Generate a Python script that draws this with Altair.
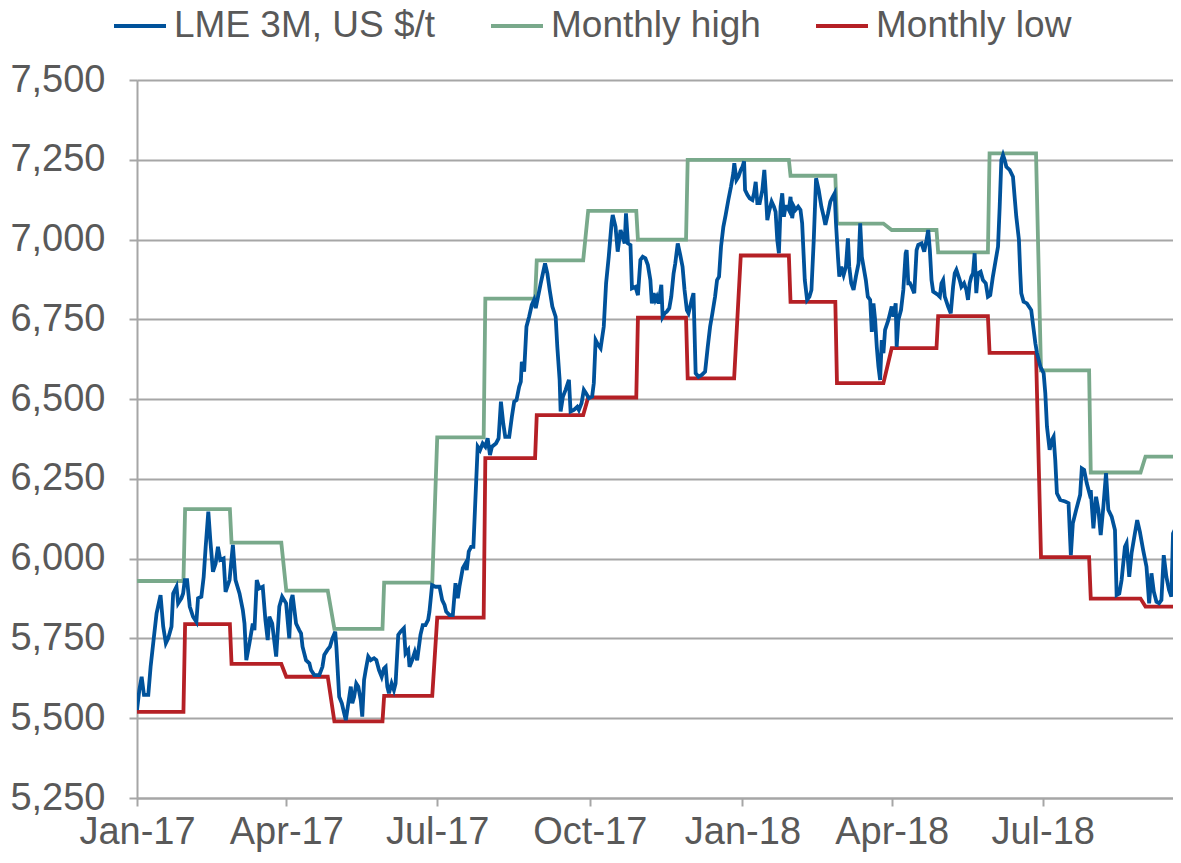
import altair as alt
import pandas as pd

FONT = "Liberation Sans, Arial, sans-serif"
TEXT_COLOR = "#595959"
GRID_COLOR = "#a6a6a6"

series_names = ["LME 3M, US $/t", "Monthly high", "Monthly low"]
series_colors = ["#00529b", "#79a98b", "#b52025"]

months = ["2017-01", "2017-02", "2017-03", "2017-04", "2017-05", "2017-06", "2017-07",
          "2017-08", "2017-09", "2017-10", "2017-11", "2017-12", "2018-01", "2018-02",
          "2018-03", "2018-04", "2018-05", "2018-06", "2018-07", "2018-08", "2018-09"]
monthly_high = [5930, 6155, 6050, 5900, 5780, 5925, 6380, 6815, 6935, 7090, 7000, 7250,
                7250, 7200, 7050, 7030, 6960, 7270, 6590, 6270, 6320]
monthly_low = [5520, 5795, 5670, 5630, 5490, 5570, 5815, 6315, 6450, 6505, 6755, 6565,
               6950, 6805, 6550, 6660, 6760, 6645, 6005, 5875, 5850]

# LME exchange holidays (no trading)
holidays = ["2017-04-14", "2017-04-17", "2017-05-01", "2017-05-29", "2017-08-28",
            "2017-12-25", "2017-12-26", "2018-01-01", "2018-03-30", "2018-04-02",
            "2018-05-07", "2018-05-28", "2018-08-27"]

# LME 3M price: days after 2017-01-03 and price
lme_days = [
    0, 1.4, 2.8, 4.2, 6.8, 8.2, 10.2, 11.8, 14.2, 15.8, 17.4, 18.8, 20.8, 21.8, 23.8, 24.8,
    26.8, 27.8, 28.8, 30.2, 31.8, 33.8, 35.8, 36.8, 38.8, 40.2, 41.4, 43.0, 44.2, 45.8, 47.4,
    48.8, 50.2, 52.2, 53.4, 55.8, 57.8, 59.4, 61.8, 63.8, 64.8, 65.9, 67.8, 69.8, 70.8, 72.2,
    73.8, 75.8, 77.4, 78.8, 79.8, 81.5, 83.9, 85.8, 87.5, 89.9, 91.8, 92.9, 93.8, 95.9, 97.8,
    98.9, 99.8, 101.9, 103.9, 104.9, 106.9, 109.9, 111.8, 112.9, 114.8, 116.3, 117.8, 119.5,
    120.2, 121.9, 123.5, 124.9, 125.9, 127.4, 128.9, 129.8, 130.9, 132.2, 133.4, 134.9, 135.8,
    136.9, 137.9, 139.4, 140.9, 142.9, 144.3, 145.9, 147.5, 148.9, 149.9, 150.9, 151.9, 153.5,
    154.9, 155.9, 157.5, 158.9, 160.9, 161.9, 163.5, 164.3, 165.9, 167.5, 168.9, 170.9, 172.3,
    173.9, 175.5, 176.3, 177.9, 179.9, 182.4, 184.0, 185.4, 186.4, 188.4, 190.4, 192.0, 193.4,
    194.4, 196.4, 198.0, 198.8, 200.0, 201.4, 202.8, 204.0, 205.4, 206.8, 208.4, 210.0, 211.4,
    212.8, 214.0, 216.4, 218.0, 219.4, 220.8, 222.0, 224.4, 226.0, 227.4, 228.8, 230.4, 231.4,
    232.0, 233.4, 234.8, 236.4, 238.0, 239.4, 240.4, 241.4, 243.4, 246.0, 247.4, 248.8, 250.4,
    252.4, 253.4, 254.8, 255.4, 256.8, 258.4, 260.4, 261.4, 263.4, 265.4, 266.4, 268.0, 269.4,
    270.8, 272.4, 274.4, 275.4, 276.5, 278.0, 279.5, 281.4, 282.8, 284.4, 286.1, 286.8, 288.5,
    289.8, 291.5, 292.8, 294.0, 294.8, 296.0, 297.5, 298.4, 300.5, 302.0, 303.5, 304.9, 306.5,
    308.0, 309.5, 310.4, 311.5, 312.5, 313.4, 314.5, 316.1, 316.9, 318.1, 319.4, 320.9, 322.1,
    323.5, 324.5, 326.0, 327.5, 328.9, 330.1, 331.5, 332.5, 333.5, 334.4, 335.5, 336.8, 338.5,
    340.5, 342.5, 344.1, 345.5, 346.9, 348.5, 349.7, 350.9, 352.1, 353.5, 354.9, 356.5, 358.1,
    359.5, 360.1, 361.4, 362.6, 364.0, 365.0, 366.0, 366.6, 368.0, 369.4, 371.0, 372.0, 373.0,
    374.0, 375.4, 377.0, 378.2, 379.0, 380.0, 381.0, 382.6, 384.0, 385.0, 386.0, 387.0, 388.0,
    389.0, 390.0, 391.0, 392.0, 393.0, 394.0, 395.0, 396.0, 397.0, 398.6, 400.0, 401.0, 402.6,
    404.0, 405.4, 406.6, 408.0, 409.4, 411.0, 412.6, 414.0, 415.0, 416.6, 418.0, 419.4, 420.6,
    421.4, 422.6, 423.4, 424.6, 426.0, 427.4, 428.6, 429.4, 430.6, 432.0, 433.4, 435.0, 436.0,
    437.0, 438.0, 439.4, 440.6, 442.0, 443.0, 444.0, 445.0, 446.0, 447.0, 448.0, 449.0, 450.0,
    451.0, 453.0, 455.0, 456.0, 457.4, 458.0, 459.0, 460.6, 462.0, 463.4, 464.0, 465.0, 466.0,
    467.0, 468.6, 470.0, 471.0, 473.0, 474.6, 476.0, 477.0, 478.0, 479.0, 480.0, 481.4, 483.0,
    484.0, 485.0, 486.0, 487.0, 489.0, 490.6, 492.0, 493.0, 494.0, 496.0, 497.0, 498.6, 500.0,
    501.0, 502.0, 503.0, 504.0, 505.0, 506.0, 507.0, 508.6, 510.0, 511.7, 513.0, 514.4, 516.0,
    517.7, 519.1, 520.1, 521.1, 522.1, 523.1, 524.1, 526.1, 528.1, 529.1, 530.1, 531.7, 532.5,
    533.1, 534.5, 536.5, 539.1, 540.6, 541.6, 542.6, 544.6, 546.6, 547.6, 548.6, 550.2, 551.6,
    552.6, 553.6, 554.6, 556.6, 559.6, 561.6, 563.0, 564.2, 566.2, 568.6, 569.6, 571.0, 572.6,
    574.2, 575.0, 576.6, 578.2, 579.6, 581.0, 582.6, 584.2, 585.6, 587.6, 589.6, 590.6, 592.2,
    593.6, 595.6, 596.6, 598.2, 599.6, 601.6, 603.0, 604.6, 606.6, 608.6, 610.2, 611.6, 613.0,
    614.6, 616.2, 617.6, 619.0, 620.6, 622.2, 623.6, 624.6, 625.6, 626.6, 627.6, 628.2,
]
lme_price = [
    5526, 5588, 5630, 5573, 5573, 5661, 5755, 5829, 5886, 5787, 5735, 5750, 5787, 5891, 5912, 5860,
    5876, 5891, 5933, 5933, 5850, 5818, 5802, 5876, 5881, 5943, 6037, 6147, 6058, 5959, 5985,
    6037, 5996, 6001, 5896, 5933, 6043, 5933, 5891, 5839, 5797, 5682, 5735, 5797, 5776, 5933,
    5907, 5912, 5808, 5745, 5818, 5797, 5693, 5850, 5881, 5860, 5750, 5870, 5886, 5797, 5776,
    5766, 5724, 5682, 5672, 5651, 5635, 5635, 5661, 5698, 5714, 5724, 5750, 5771,
    5724, 5567, 5547, 5515, 5494, 5547, 5599, 5547, 5567, 5609, 5599, 5557, 5505,
    5620, 5651, 5693, 5682, 5688, 5682, 5651, 5630, 5656, 5661, 5599, 5578, 5609,
    5588, 5609, 5761, 5771, 5782, 5703, 5714, 5661, 5682, 5708, 5682, 5761, 5792,
    5792, 5808, 5834, 5917, 5912, 5912, 5870, 5855, 5834, 5823, 5823, 5923, 5876,
    5912, 5970, 5985, 5964, 6022, 6037, 6037, 6184, 6351, 6340, 6361, 6351, 6377,
    6325, 6351, 6361, 6377, 6492, 6424, 6382, 6382, 6445, 6492, 6497, 6539, 6555,
    6617, 6586, 6727, 6758, 6795, 6811, 6785, 6811, 6863, 6925, 6894, 6842, 6790,
    6758, 6664, 6560, 6461, 6508, 6529, 6560, 6461, 6466, 6476, 6466, 6487, 6529,
    6518, 6503, 6508, 6550, 6685, 6670, 6659, 6727, 6863, 6946, 7051, 7077, 7040,
    6962, 7030, 7009, 6988, 7082, 6988, 6983, 6847, 6852, 6826, 6936, 6946, 6941,
    6920, 6873, 6800, 6832, 6811, 6821, 6800, 6858, 6758, 6769, 6774, 6785, 6821,
    6894, 6925, 6988, 6952, 6915, 6842, 6779, 6769, 6790, 6811, 6832, 6581, 6570,
    6576, 6586, 6664, 6727, 6769, 6821, 6873, 6884, 6978, 7040, 7077, 7124, 7166,
    7208, 7239, 7187, 7197, 7218, 7228, 7245, 7155, 7140, 7129, 7124, 7145, 7181,
    7114, 7114, 7155, 7218, 7155, 7061, 7087, 7119, 7103, 7087, 6999, 6957, 7103,
    7145, 7072, 7103, 7103, 7093, 7134, 7067, 7103, 7093, 7103, 7093, 7051, 6873,
    6811, 6821, 6842, 6999, 7192, 7155, 7103, 7072, 7046, 7082, 7119, 7134, 7145,
    7051, 6946, 6884, 6915, 6889, 6915, 7004, 6915, 6863, 6842, 6884, 6925, 7051,
    6946, 6915, 6873, 6821, 6811, 6711, 6800, 6748, 6664, 6602, 6560, 6685, 6644,
    6717, 6748, 6790, 6758, 6800, 6664, 6748, 6779, 6842, 6957, 6967, 6863, 6863,
    6852, 6832, 6967, 6983, 6988, 6962, 6999, 7030, 6967, 6873, 6837, 6832, 6826,
    6821, 6863, 6873, 6821, 6790, 6769, 6852, 6894, 6905, 6873, 6852, 6863, 6842,
    6811, 6863, 6884, 6894, 6957, 6832, 6894, 6899, 6873, 6863, 6821, 6826, 6884,
    6936, 6978, 7103, 7249, 7265, 7249, 7228, 7218, 7197, 7134, 7072, 6999, 6894,
    6832, 6805, 6800, 6779, 6717, 6675, 6644, 6602, 6581, 6518, 6414, 6341, 6372,
    6382, 6309, 6205, 6184, 6179, 6174, 6011, 6111, 6153, 6200, 6283, 6278, 6236,
    6205, 6215, 6095, 6194, 6153, 6074, 6163, 6268, 6153, 6132, 6090, 5886, 5891,
    5933, 6037, 6048, 5943, 6017, 6079, 6121, 6085, 6027, 5975, 5860, 5954, 5897,
    5865, 5860, 5870, 6011, 5943, 5902, 5881, 6079, 6090, 6121, 6236, 6288,
]

x_tick_dates = [(2017, 1, 3), (2017, 4, 3), (2017, 7, 3), (2017, 10, 3),
                (2018, 1, 3), (2018, 4, 3), (2018, 7, 3)]
y_ticks = [5250, 5500, 5750, 6000, 6250, 6500, 6750, 7000, 7250, 7500]

# ---- tables ----
base = pd.Timestamp("2017-01-03")
lme = pd.DataFrame({
    "date": base + pd.to_timedelta(lme_days, unit="D"),
    "value": lme_price,
    "series": series_names[0],
})

tdays = pd.bdate_range("2017-01-03", "2018-09-24")
tdays = tdays[~tdays.isin(pd.to_datetime(holidays))]
mkey = list(tdays.strftime("%Y-%m"))
hi_map = dict(zip(months, monthly_high))
lo_map = dict(zip(months, monthly_low))
steps = pd.concat([
    pd.DataFrame({"date": tdays, "value": [hi_map[m] for m in mkey], "series": series_names[1]}),
    pd.DataFrame({"date": tdays, "value": [lo_map[m] for m in mkey], "series": series_names[2]}),
], ignore_index=True)

color = alt.Color(
    "series:N",
    scale=alt.Scale(domain=series_names, range=series_colors),
    legend=alt.Legend(
        title=None, orient="none", legendX=-25, legendY=-82, direction="horizontal",
        symbolType="stroke", symbolSize=2704, symbolStrokeWidth=4,
        labelFont=FONT, labelFontSize=37, labelColor=TEXT_COLOR,
        columnPadding=47, labelOffset=6, padding=0, labelLimit=0,
    ),
)

x = alt.X(
    "date:T",
    scale=alt.Scale(domain=[alt.DateTime(year=2017, month=1, date=3),
                            alt.DateTime(year=2018, month=9, date=19, hours=14)]),
    axis=alt.Axis(
        values=[alt.DateTime(year=y, month=m, date=d) for (y, m, d) in x_tick_dates],
        format="%b-%y", title=None, grid=False,
        labelFont=FONT, labelFontSize=38, labelColor=TEXT_COLOR, labelPadding=7,
        labelFlush=False, labelOverlap=False,
        tickSize=8, tickColor=GRID_COLOR, tickWidth=2,
        domainColor=GRID_COLOR, domainWidth=2,
    ),
)
y = alt.Y(
    "value:Q",
    scale=alt.Scale(domain=[5250, 7500], nice=False, zero=False),
    axis=alt.Axis(
        values=y_ticks, format=",d", title=None,
        grid=True, gridColor=GRID_COLOR, gridWidth=2,
        labelFont=FONT, labelFontSize=38, labelColor=TEXT_COLOR, labelPadding=24,
        tickSize=8, tickColor=GRID_COLOR, tickWidth=2,
        domainColor=GRID_COLOR, domainWidth=2,
    ),
)

step_lines = alt.Chart(steps).mark_line(strokeWidth=3.8, clip=True).encode(x=x, y=y, color=color)
lme_line = alt.Chart(lme).mark_line(strokeWidth=3.8, clip=True).encode(x=x, y=y, color=color)

chart = alt.layer(step_lines, lme_line).properties(
    width=1036, height=718,
    padding={"left": 129, "top": 72, "right": 0, "bottom": 57},
    autosize=alt.AutoSizeParams(type="none"),
).configure_view(stroke=None).configure(background="white")

chart.save("out.html", embed_options={"renderer": "svg", "actions": False})
